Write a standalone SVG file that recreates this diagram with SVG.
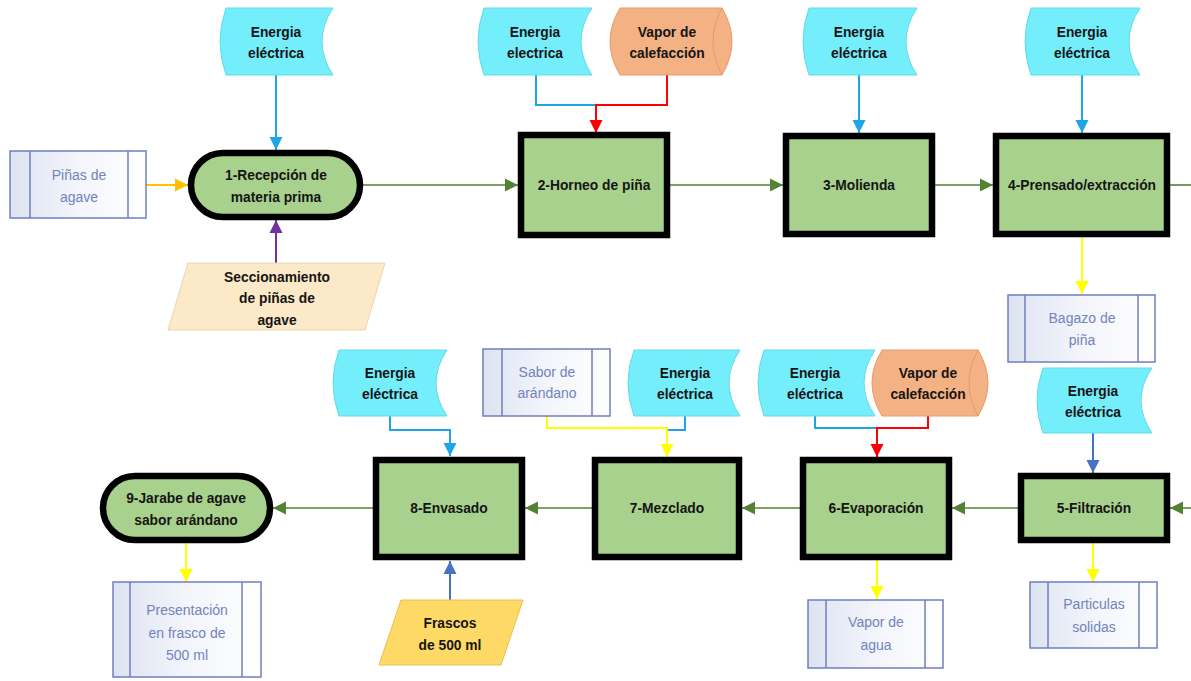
<svg xmlns="http://www.w3.org/2000/svg" width="1191" height="681" viewBox="0 0 1191 681">
<style>
.proc{fill:#a9d18e;stroke:#000;stroke-width:6.5}
.en{fill:#74eefa;stroke:#62dbe8;stroke-width:1}
.vap{fill:#f4b183;stroke:#e59a6a;stroke-width:1}
.pp{fill:url(#pg);stroke:#6f7fc0;stroke-width:1.5}
.ppl{stroke:#6f7fc0;stroke-width:1.5;fill:none}
.par1{fill:#fce9c8;stroke:#e8d6b0;stroke-width:1}
.par2{fill:#ffd966;stroke:#e6c050;stroke-width:1}
.b{font-family:"Liberation Sans",Arial,sans-serif;font-weight:bold;font-size:13.8px;fill:#151515;text-anchor:middle}
.l{font-family:"Liberation Sans",Arial,sans-serif;font-size:14px;fill:#7283bd;text-anchor:middle}
.cg{stroke:#548235;stroke-width:1.6;fill:none}
.cb{stroke:#1ea5e8;stroke-width:2;fill:none}
.cb2{stroke:#4472c4;stroke-width:2;fill:none}
.cr{stroke:#ff0000;stroke-width:2;fill:none}
.cy{stroke:#ffff00;stroke-width:2;fill:none}
.co{stroke:#ffc000;stroke-width:2;fill:none}
.cp{stroke:#7030a0;stroke-width:2;fill:none}
</style>
<defs>
<linearGradient id="pg" x1="0" y1="0" x2="1" y2="0">
<stop offset="0" stop-color="#dde3f1"/>
<stop offset="0.5" stop-color="#f3f5fb"/>
<stop offset="1" stop-color="#ffffff"/>
</linearGradient>
<marker id="mG" viewBox="0 0 12 12" refX="12" refY="6" markerWidth="13" markerHeight="14" markerUnits="userSpaceOnUse" orient="auto"><path d="M0,0 L12,6 L0,12 Z" fill="#548235"/></marker>
<marker id="mB" viewBox="0 0 12 12" refX="12" refY="6" markerWidth="13" markerHeight="15" markerUnits="userSpaceOnUse" orient="auto"><path d="M0,0 L12,6 L0,12 Z" fill="#1ea5e8"/></marker>
<marker id="mB2" viewBox="0 0 12 12" refX="12" refY="6" markerWidth="13" markerHeight="15" markerUnits="userSpaceOnUse" orient="auto"><path d="M0,0 L12,6 L0,12 Z" fill="#4472c4"/></marker>
<marker id="mR" viewBox="0 0 12 12" refX="12" refY="6" markerWidth="13" markerHeight="15" markerUnits="userSpaceOnUse" orient="auto"><path d="M0,0 L12,6 L0,12 Z" fill="#ff0000"/></marker>
<marker id="mY" viewBox="0 0 12 12" refX="12" refY="6" markerWidth="13" markerHeight="15" markerUnits="userSpaceOnUse" orient="auto"><path d="M0,0 L12,6 L0,12 Z" fill="#ffff00"/></marker>
<marker id="mO" viewBox="0 0 12 12" refX="12" refY="6" markerWidth="13" markerHeight="15" markerUnits="userSpaceOnUse" orient="auto"><path d="M0,0 L12,6 L0,12 Z" fill="#ffc000"/></marker>
<marker id="mP" viewBox="0 0 12 12" refX="12" refY="6" markerWidth="13" markerHeight="15" markerUnits="userSpaceOnUse" orient="auto"><path d="M0,0 L12,6 L0,12 Z" fill="#7030a0"/></marker>
</defs>
<rect width="1191" height="681" fill="#ffffff"/>

<g id="connectors">
<line class="cg" x1="363" y1="185" x2="518" y2="185" marker-end="url(#mG)"/>
<line class="cg" x1="670" y1="185" x2="783" y2="185" marker-end="url(#mG)"/>
<line class="cg" x1="935" y1="185" x2="993" y2="185" marker-end="url(#mG)"/>
<line class="cg" x1="1170" y1="185" x2="1191" y2="185"/>
<line class="cg" x1="1191" y1="508" x2="1170" y2="508" marker-end="url(#mG)"/>
<line class="cg" x1="1018" y1="508" x2="952" y2="508" marker-end="url(#mG)"/>
<line class="cg" x1="800" y1="508" x2="742" y2="508" marker-end="url(#mG)"/>
<line class="cg" x1="592" y1="508" x2="525" y2="508" marker-end="url(#mG)"/>
<line class="cg" x1="373" y1="508" x2="273" y2="508" marker-end="url(#mG)"/>
<line class="cb" x1="276" y1="75" x2="276" y2="150" marker-end="url(#mB)"/>
<line class="co" x1="146" y1="185" x2="188" y2="185" marker-end="url(#mO)"/>
<line class="cp" x1="276" y1="263" x2="276" y2="220" marker-end="url(#mP)"/>
<polyline class="cb" points="536,75 536,105 596,105"/>
<polyline class="cr" points="667,75 667,105 596,105 596,133" marker-end="url(#mR)"/>
<line class="cb" x1="859" y1="75" x2="859" y2="133" marker-end="url(#mB)"/>
<line class="cb" x1="1082" y1="75" x2="1082" y2="133" marker-end="url(#mB)"/>
<line class="cy" x1="1082" y1="237" x2="1082" y2="294" marker-end="url(#mY)"/>
<line class="cb2" x1="1093" y1="433" x2="1093" y2="473" marker-end="url(#mB2)"/>
<line class="cy" x1="1093" y1="543" x2="1093" y2="582" marker-end="url(#mY)"/>
<polyline class="cb" points="815,416 815,428 877,428"/>
<polyline class="cr" points="928,416 928,428 877,428 877,457" marker-end="url(#mR)"/>
<line class="cy" x1="877" y1="560" x2="877" y2="599" marker-end="url(#mY)"/>
<polyline class="cb" points="685,416 685,430 668,430"/>
<polyline class="cy" points="547,416 547,428 667,428 667,457" marker-end="url(#mY)"/>
<polyline class="cb" points="390,416 390,430 450,430 450,456" marker-end="url(#mB)"/>
<line class="cb2" x1="450" y1="600" x2="450" y2="561" marker-end="url(#mB2)"/>
<line class="cy" x1="186" y1="543" x2="186" y2="582" marker-end="url(#mY)"/>
</g>

<g id="n1">
<rect class="proc" x="191" y="153" width="169" height="64" rx="32"/>
<text class="b" x="276" y="180">1-Recepción de</text>
<text class="b" x="276" y="202">materia prima</text>
</g>
<g id="e1">
<path class="en" d="M226,8 H333 Q311,41.5 333,75 H226 Q214,41.5 226,8 Z"/>
<text class="b" x="276" y="37">Energia</text>
<text class="b" x="276" y="58">eléctrica</text>
</g>
<g id="pinas">
<rect class="pp" x="10" y="151" width="136" height="67"/>
<line class="ppl" x1="30" y1="151" x2="30" y2="218"/>
<line class="ppl" x1="128" y1="151" x2="128" y2="218"/>
<text class="l" x="79" y="180">Piñas de</text>
<text class="l" x="79" y="202">agave</text>
</g>
<g id="secc">
<polygon class="par1" points="188,263 385,263 365,330 168,330"/>
<text class="b" x="277" y="282">Seccionamiento</text>
<text class="b" x="277" y="303">de piñas de</text>
<text class="b" x="277" y="325">agave</text>
</g>

<g id="n2">
<rect class="proc" x="521" y="135" width="146" height="100"/>
<text class="b" x="594" y="190">2-Horneo de piña</text>
</g>
<g id="e2">
<path class="en" d="M484,8 H592 Q570,41.5 592,75 H484 Q472,41.5 484,8 Z"/>
<text class="b" x="535" y="37">Energia</text>
<text class="b" x="535" y="58">electrica</text>
</g>
<g id="v2">
<path class="vap" d="M620,8 H722 Q742,41.5 722,75 H620 Q600,41.5 620,8 Z"/>
<path d="M722,8 Q704,41.5 722,75" fill="none" stroke="#e59a6a" stroke-width="1"/>
<text class="b" x="667" y="37">Vapor de</text>
<text class="b" x="667" y="58">calefacción</text>
</g>

<g id="n3">
<rect class="proc" x="786" y="136" width="146" height="98"/>
<text class="b" x="859" y="190">3-Molienda</text>
</g>
<g id="e3">
<path class="en" d="M809,8 H917 Q895,41.5 917,75 H809 Q797,41.5 809,8 Z"/>
<text class="b" x="859" y="37">Energia</text>
<text class="b" x="859" y="58">eléctrica</text>
</g>

<g id="n4">
<rect class="proc" x="996" y="136" width="171" height="98"/>
<text class="b" x="1082" y="190">4-Prensado/extracción</text>
</g>
<g id="e4">
<path class="en" d="M1031,8 H1140 Q1118,41.5 1140,75 H1031 Q1019,41.5 1031,8 Z"/>
<text class="b" x="1082" y="37">Energia</text>
<text class="b" x="1082" y="58">eléctrica</text>
</g>
<g id="bagazo">
<rect class="pp" x="1008" y="295" width="147" height="67"/>
<line class="ppl" x1="1025" y1="295" x2="1025" y2="362"/>
<line class="ppl" x1="1138" y1="295" x2="1138" y2="362"/>
<text class="l" x="1082" y="323">Bagazo de</text>
<text class="l" x="1082" y="345">piña</text>
</g>

<g id="e5">
<path class="en" d="M1043,368 H1152 Q1130,400.5 1152,433 H1043 Q1031,400.5 1043,368 Z"/>
<text class="b" x="1093" y="396">Energia</text>
<text class="b" x="1093" y="417">eléctrica</text>
</g>
<g id="n5">
<rect class="proc" x="1021" y="476" width="146" height="64"/>
<text class="b" x="1094" y="513">5-Filtración</text>
</g>
<g id="particulas">
<rect class="pp" x="1030" y="582" width="127" height="66"/>
<line class="ppl" x1="1048" y1="582" x2="1048" y2="648"/>
<line class="ppl" x1="1139" y1="582" x2="1139" y2="648"/>
<text class="l" x="1094" y="609">Particulas</text>
<text class="l" x="1094" y="632">solidas</text>
</g>

<g id="n6">
<rect class="proc" x="803" y="460" width="146" height="97"/>
<text class="b" x="876" y="513">6-Evaporación</text>
</g>
<g id="e6">
<path class="en" d="M764,350 H875 Q853,383 875,416 H764 Q752,383 764,350 Z"/>
<text class="b" x="815" y="378">Energia</text>
<text class="b" x="815" y="399">eléctrica</text>
</g>
<g id="v6">
<path class="vap" d="M882,350 H978 Q998,383 978,416 H882 Q862,383 882,350 Z"/>
<path d="M978,350 Q960,383 978,416" fill="none" stroke="#e59a6a" stroke-width="1"/>
<text class="b" x="928" y="378">Vapor de</text>
<text class="b" x="928" y="399">calefacción</text>
</g>
<g id="vagua">
<rect class="pp" x="808" y="600" width="135" height="68"/>
<line class="ppl" x1="826" y1="600" x2="826" y2="668"/>
<line class="ppl" x1="925" y1="600" x2="925" y2="668"/>
<text class="l" x="876" y="627">Vapor de</text>
<text class="l" x="876" y="650">agua</text>
</g>

<g id="n7">
<rect class="proc" x="595" y="460" width="144" height="97"/>
<text class="b" x="667" y="513">7-Mezclado</text>
</g>
<g id="e7">
<path class="en" d="M634,350 H740 Q718,383 740,416 H634 Q622,383 634,350 Z"/>
<text class="b" x="685" y="378">Energia</text>
<text class="b" x="685" y="399">eléctrica</text>
</g>
<g id="sabor">
<rect class="pp" x="483" y="349" width="127" height="67"/>
<line class="ppl" x1="502" y1="349" x2="502" y2="416"/>
<line class="ppl" x1="592" y1="349" x2="592" y2="416"/>
<text class="l" x="547" y="377">Sabor de</text>
<text class="l" x="547" y="398">arándano</text>
</g>

<g id="n8">
<rect class="proc" x="376" y="460" width="146" height="97"/>
<text class="b" x="449" y="513">8-Envasado</text>
</g>
<g id="e8">
<path class="en" d="M339,350 H447 Q425,383 447,416 H339 Q327,383 339,350 Z"/>
<text class="b" x="390" y="378">Energia</text>
<text class="b" x="390" y="399">eléctrica</text>
</g>
<g id="frascos">
<polygon class="par2" points="401,600 523,600 501,665 379,665"/>
<text class="b" x="450" y="628">Frascos</text>
<text class="b" x="450" y="650">de 500 ml</text>
</g>

<g id="n9">
<rect class="proc" x="103" y="476" width="167" height="64" rx="32"/>
<text class="b" x="186" y="503">9-Jarabe de agave</text>
<text class="b" x="186" y="525">sabor arándano</text>
</g>
<g id="presentacion">
<rect class="pp" x="113" y="582" width="148" height="95"/>
<line class="ppl" x1="130" y1="582" x2="130" y2="677"/>
<line class="ppl" x1="242" y1="582" x2="242" y2="677"/>
<text class="l" x="187" y="615">Presentación</text>
<text class="l" x="187" y="638">en frasco de</text>
<text class="l" x="187" y="660">500 ml</text>
</g>
</svg>
